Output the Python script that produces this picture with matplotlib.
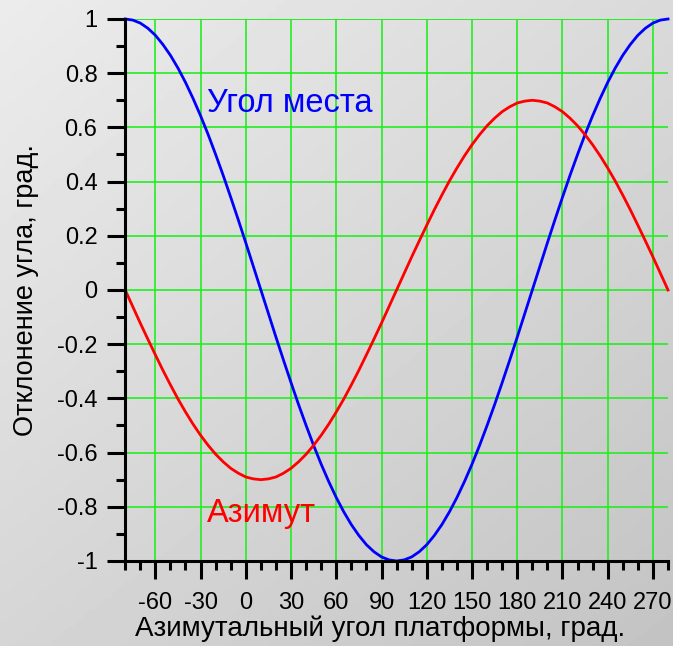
import numpy as np
import matplotlib

matplotlib.use("Agg")
import matplotlib.pyplot as plt  # noqa: E402

plt.rcParams["font.family"] = ["Liberation Sans", "DejaVu Sans"]

# azimuth of the platform, degrees
AZ = np.arange(-80, 281, 5)

# elevation-angle error ("Угол места"), degrees
ELEV = [
    1.000, 0.996, 0.985, 0.966, 0.940, 0.906, 0.866, 0.819, 0.766, 0.707,
    0.643, 0.574, 0.500, 0.423, 0.342, 0.259, 0.174, 0.087, 0.000,
    -0.087, -0.174, -0.259, -0.342, -0.423, -0.500, -0.574, -0.643, -0.707,
    -0.766, -0.819, -0.866, -0.906, -0.940, -0.966, -0.985, -0.996, -1.000,
    -0.996, -0.985, -0.966, -0.940, -0.906, -0.866, -0.819, -0.766, -0.707,
    -0.643, -0.574, -0.500, -0.423, -0.342, -0.259, -0.174, -0.087, 0.000,
    0.087, 0.174, 0.259, 0.342, 0.423, 0.500, 0.574, 0.643, 0.707,
    0.766, 0.819, 0.866, 0.906, 0.940, 0.966, 0.985, 0.996, 1.000,
]

# azimuth error ("Азимут"), degrees
AZERR = [
    0.000, -0.061, -0.122, -0.181, -0.239, -0.296, -0.350, -0.402, -0.450, -0.495,
    -0.536, -0.573, -0.606, -0.634, -0.658, -0.676, -0.690, -0.697, -0.700,
    -0.697, -0.690, -0.676, -0.658, -0.634, -0.606, -0.573, -0.536, -0.495,
    -0.450, -0.402, -0.350, -0.296, -0.239, -0.181, -0.122, -0.061, 0.000,
    0.061, 0.122, 0.181, 0.239, 0.296, 0.350, 0.402, 0.450, 0.495,
    0.536, 0.573, 0.606, 0.634, 0.658, 0.676, 0.690, 0.697, 0.700,
    0.697, 0.690, 0.676, 0.658, 0.634, 0.606, 0.573, 0.536, 0.495,
    0.450, 0.402, 0.350, 0.296, 0.239, 0.181, 0.122, 0.061, 0.000,
]

XTICKS = [-60, -30, 0, 30, 60, 90, 120, 150, 180, 210, 240, 270]
YTICKS = [-1, -0.8, -0.6, -0.4, -0.2, 0, 0.2, 0.4, 0.6, 0.8, 1]
YLABELS = ["-1", "-0.8", "-0.6", "-0.4", "-0.2", "0", "0.2", "0.4", "0.6", "0.8", "1"]

fig = plt.figure(figsize=(6.73, 6.46), dpi=100)

# diagonal grey gradient background
bg = fig.add_axes([0, 0, 1, 1], zorder=-10)
gy, gx = np.mgrid[0:1:200j, 0:1:200j]
grad = 0.925 - 0.16 * (0.45 * gx + 0.55 * gy)
bg.imshow(grad, cmap="gray", vmin=0, vmax=1, extent=[0, 1, 0, 1], aspect="auto")
bg.axis("off")

ax = fig.add_axes([0.186, 0.1316, 0.8066, 0.839])
ax.set_facecolor("none")

ax.plot(AZ, ELEV, color="#0000ff", lw=2.0, clip_on=False, zorder=3)
ax.plot(AZ, AZERR, color="#ff0000", lw=2.0, clip_on=False, zorder=3)

ax.set_xlim(-80, 280)
ax.set_ylim(-1, 1)

ax.set_xticks(XTICKS)
ax.set_xticklabels([str(v) for v in XTICKS])
ax.set_xticks(np.arange(-80, 281, 10), minor=True)
ax.set_yticks(YTICKS)
ax.set_yticklabels(YLABELS)
ax.set_yticks(np.arange(-1, 1.01, 0.1), minor=True)

ax.grid(True, which="major", color="#22ee22", lw=1.2)
ax.axhline(1, color="#22ee22", lw=1.2, zorder=1)

for s in ("top", "right"):
    ax.spines[s].set_visible(False)
for s in ("left", "bottom"):
    ax.spines[s].set_linewidth(2.2)
    ax.spines[s].set_zorder(4)

ax.tick_params(which="major", direction="out", length=13, width=2.2, colors="black")
ax.tick_params(which="minor", direction="out", length=6.5, width=2.2)
ax.tick_params(axis="x", which="major", pad=9, labelsize=17)
ax.tick_params(axis="y", which="major", pad=7, labelsize=17)

ax.text(-26, 0.657, "Угол места", color="#0000ff", fontsize=23.5, va="baseline", ha="left")
ax.text(-26, -0.856, "Азимут", color="#ff0000", fontsize=23.5, va="baseline", ha="left")

ax.set_xlabel("Азимутальный угол платформы, град.", fontsize=20, va="baseline")
ax.xaxis.set_label_coords(0.47, -0.1384)
ax.set_ylabel("Отклонение угла, град.", fontsize=19.5, labelpad=13)

fig.savefig("out.png", dpi=100)
